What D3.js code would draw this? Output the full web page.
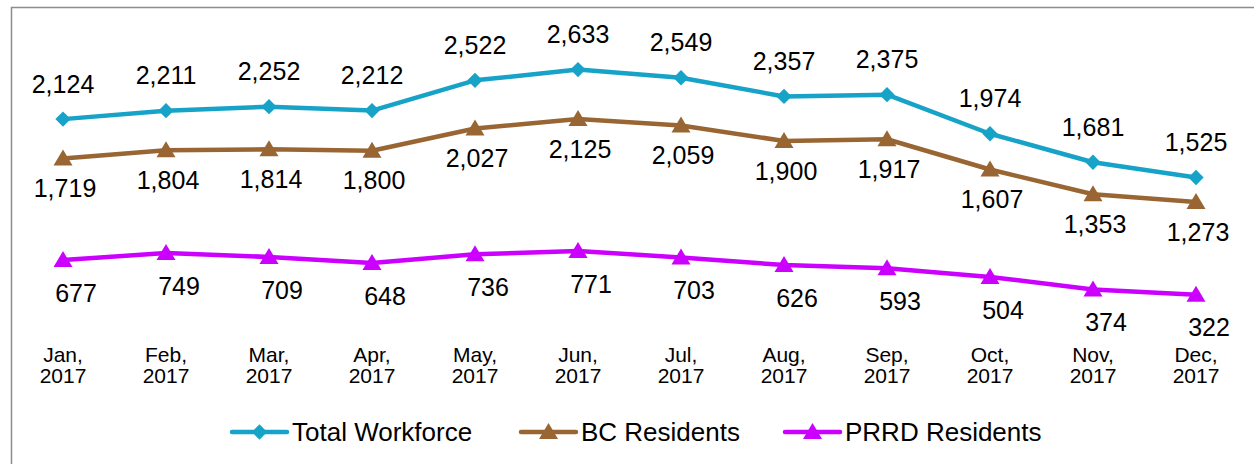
<!DOCTYPE html>
<html>
<head>
<meta charset="utf-8">
<script src="https://cdn.jsdelivr.net/npm/d3@7"></script>
<style>
  body { margin: 0; background: #fff; }
  svg { display: block; font-family: "Liberation Sans", Arial, sans-serif; }
</style>
</head>
<body>
<div id="chart"></div>
<script>
var months = ['Jan', 'Feb', 'Mar', 'Apr', 'May', 'Jun', 'Jul', 'Aug', 'Sep', 'Oct', 'Nov', 'Dec'];
var year = '2017';
var totalWorkforce = [2124, 2211, 2252, 2212, 2522, 2633, 2549, 2357, 2375, 1974, 1681, 1525];
var bcResidents = [1719, 1804, 1814, 1800, 2027, 2125, 2059, 1900, 1917, 1607, 1353, 1273];
var prrdResidents = [677, 749, 709, 648, 736, 771, 703, 626, 593, 504, 374, 322];

var series = [
  {name: 'Total Workforce', values: totalWorkforce, color: '#17a3c8', marker: 'diamond', dx: 0, dy: -35},
  {name: 'BC Residents', values: bcResidents, color: '#996633', marker: 'triangle', dx: 2, dy: 30},
  {name: 'PRRD Residents', values: prrdResidents, color: '#cc00ff', marker: 'triangle', dx: 13, dy: 33}
];

var width = 1254;
var height = 464;

var svg = d3.select('#chart').append('svg')
  .attr('width', width)
  .attr('height', height);

// Chart border (runs off the right and bottom edges)
svg.append('rect')
  .attr('x', 11.5)
  .attr('y', 7.5)
  .attr('width', 1300)
  .attr('height', 500)
  .attr('fill', 'none')
  .attr('stroke', '#8c8c8c')
  .attr('stroke-width', 1.5);

var x = d3.scaleBand().domain(months).range([11.5, 1247.5]);
var y = d3.scaleLinear().domain([0, 3000]).range([326, 33.8]);
var cx = function (m) { return x(m) + x.bandwidth() / 2; };

var line = d3.line()
  .x(function (d) { return cx(d.month); })
  .y(function (d) { return y(d.value); });

var diamond = d3.symbol().type(d3.symbolDiamond2).size(150);
var triangle = 'M0,-9L9.5,7L-9.5,7Z';

function markerPath(type) {
  return type === 'diamond' ? diamond() : triangle;
}

var fmt = d3.format(',');

series.forEach(function (s) {
  var pts = s.values.map(function (v, i) { return {month: months[i], value: v}; });
  var g = svg.append('g').attr('class', 'series');

  g.append('path')
    .attr('d', line(pts))
    .attr('fill', 'none')
    .attr('stroke', s.color)
    .attr('stroke-width', 4.5)
    .attr('stroke-linejoin', 'round')
    .attr('stroke-linecap', 'round');

  g.selectAll('.marker')
    .data(pts)
    .enter().append('path')
    .attr('class', 'marker')
    .attr('transform', function (d) { return 'translate(' + cx(d.month) + ',' + y(d.value) + ')'; })
    .attr('d', markerPath(s.marker))
    .attr('fill', s.color);

  g.selectAll('.label')
    .data(pts)
    .enter().append('text')
    .attr('class', 'label')
    .attr('x', function (d) { return cx(d.month) + s.dx; })
    .attr('y', function (d) { return y(d.value) + s.dy; })
    .attr('dy', '0.35em')
    .attr('text-anchor', 'middle')
    .style('font-size', '25px')
    .attr('fill', '#000')
    .text(function (d) { return fmt(d.value); });
});

// X axis: two-line category labels
var xAxis = d3.axisBottom(x).tickSize(0).tickFormat('');
var axisG = svg.append('g')
  .attr('transform', 'translate(0,326)')
  .call(xAxis);
axisG.select('.domain').remove();
axisG.selectAll('.tick text').remove();
axisG.selectAll('.tick').each(function (m) {
  var t = d3.select(this).append('text')
    .attr('text-anchor', 'middle')
    .attr('fill', '#000')
    .style('font-size', '21px');
  t.append('tspan').attr('x', 0).attr('y', 36).text(m + ',');
  t.append('tspan').attr('x', 0).attr('y', 57).text(year);
});

// Legend
var legendX = [232, 521, 785];
var legend = svg.append('g').attr('class', 'legend');
series.forEach(function (s, i) {
  var lg = legend.append('g').attr('transform', 'translate(' + legendX[i] + ',432)');
  lg.append('line')
    .attr('x1', 0).attr('x2', 55)
    .attr('stroke', s.color)
    .attr('stroke-width', 4.5)
    .attr('stroke-linecap', 'round');
  lg.append('path')
    .attr('transform', 'translate(27.5,0)')
    .attr('d', markerPath(s.marker))
    .attr('fill', s.color);
  lg.append('text')
    .attr('x', 60)
    .attr('dy', '0.35em')
    .style('font-size', '26px')
    .attr('fill', '#000')
    .text(s.name);
});
</script>
</body>
</html>
